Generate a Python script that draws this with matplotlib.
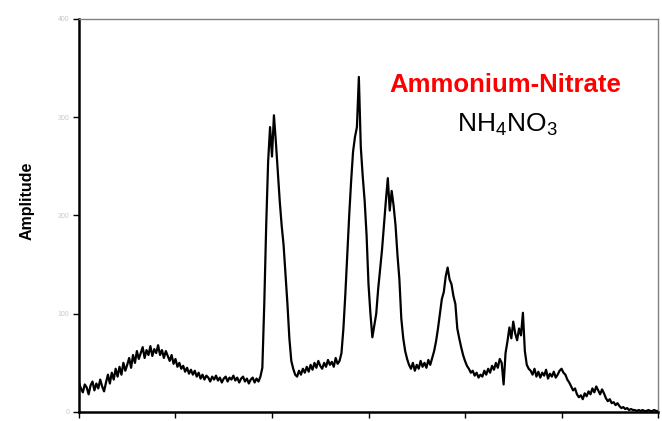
import numpy as np
import matplotlib
matplotlib.use('Agg')
import matplotlib.pyplot as plt

plt.rcParams['font.family'] = ['Liberation Sans', 'DejaVu Sans']
plt.rcParams['mathtext.default'] = 'regular'

# amplitude, one sample every 2 units from 0 to 600
amplitude = [
    30, 24, 20, 28, 25, 18, 27, 31, 22, 29,
    24, 33, 26, 21, 30, 38, 29, 40, 33, 44,
    36, 46, 38, 50, 42, 48, 55, 45, 58, 50,
    62, 54, 60, 66, 55, 63, 58, 67, 57, 64,
    60, 68, 58, 63, 55, 62, 57, 52, 58, 49,
    54, 46, 50, 44, 47, 41, 45, 39, 43, 38,
    42, 36, 40, 34, 38, 33, 37, 35, 31, 36,
    33, 37, 32, 35, 30, 34, 36, 31, 35, 33,
    37, 32, 35, 30, 34, 36, 31, 34, 29, 33,
    35, 30, 34, 31, 36, 45, 110, 190, 255, 290,
    260, 302, 275, 245, 215, 190, 170, 140, 110, 75,
    52, 44, 38, 36, 42, 38, 44, 40, 46, 41,
    48, 43, 50, 45, 52, 47, 44, 50, 46, 53,
    48, 51, 46, 55, 49, 52, 60, 85, 120, 160,
    200, 235, 265, 280, 290, 341, 270, 240, 215, 180,
    130, 100, 76, 88, 100, 125, 145, 165, 190, 215,
    238, 205, 225, 210, 190, 160, 135, 95, 75, 62,
    54, 48, 44, 50, 42, 48, 44, 52, 46, 50,
    45, 53, 48, 55, 62, 72, 85, 100, 115, 122,
    138, 147, 135, 130, 118, 110, 85, 75, 66, 58,
    52, 47, 44, 40, 42, 37, 40, 35, 38, 36,
    42, 38, 44, 40, 47, 43, 50, 45, 54, 50,
    28, 60, 72, 86, 75, 92, 80, 73, 85, 78,
    101, 62, 48, 44, 42, 38, 44, 36, 41, 35,
    40, 37, 43, 34, 39, 36, 41, 35, 38, 42,
    44, 40, 38, 33, 30, 26, 22, 24, 18, 15,
    17, 13, 19, 16, 21, 18, 24, 20, 26, 22,
    18, 23, 19, 14, 11, 13, 9, 10, 7, 9,
    6, 4, 5, 3, 4, 2, 3, 2, 2, 1,
    2, 1, 2, 1, 1, 2, 1, 1, 2, 1,
    1,
]
position = np.arange(len(amplitude)) * 2

y_ticks = [0, 100, 200, 300, 400]
x_ticks = [0, 100, 200, 300, 400, 500, 600]

fig = plt.figure(figsize=(6.62, 4.21), dpi=100)
ax = fig.add_axes([0.1193, 0.0214, 0.8747, 0.9335])

ax.plot(position, amplitude, color='black', lw=1.6)

ax.set_xlim(0, 600)
ax.set_ylim(0, 400)
ax.set_xticks(x_ticks)
ax.set_xticklabels([])
ax.set_yticks(y_ticks)
ax.set_yticklabels([str(t) for t in y_ticks], fontsize=5, color='#c8c8c8')
ax.tick_params(axis='both', direction='out', length=4, width=1, color='black', pad=3)

for side in ['left', 'bottom']:
    ax.spines[side].set_linewidth(1.8)
    ax.spines[side].set_color('black')
for side in ['top', 'right']:
    ax.spines[side].set_linewidth(1)
    ax.spines[side].set_color('#808080')

ax.set_ylabel('Amplitude', fontsize=11.5, fontweight='bold')
ax.yaxis.set_label_coords(-0.076, 0.537)

fig.text(0.764, 0.798, 'Ammonium-Nitrate', color='#ff0000', fontsize=18.5,
         fontweight='bold', ha='center', va='center')
fig.text(0.767, 0.703, r'NH$_4$NO$_3$', color='black', fontsize=19,
         ha='center', va='center')

fig.savefig('out.png', dpi=100)
